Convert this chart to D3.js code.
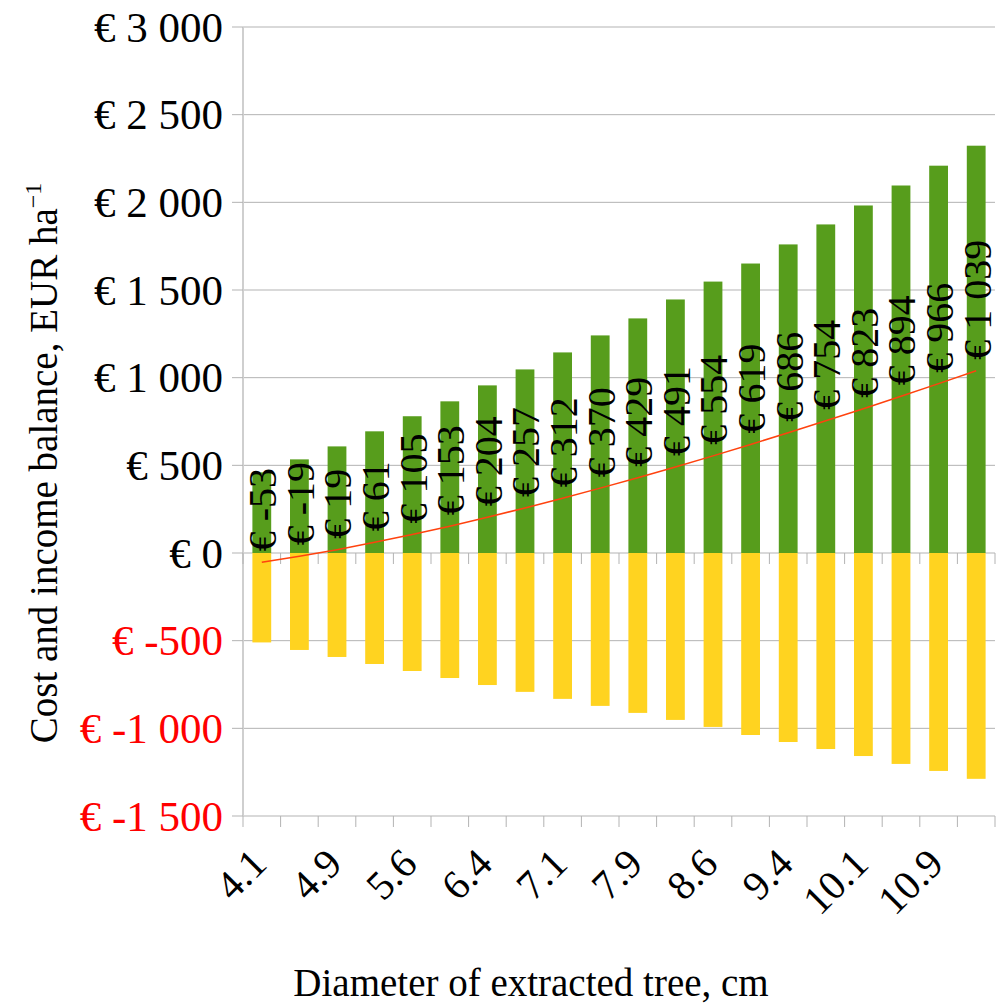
<!DOCTYPE html>
<html>
<head>
<meta charset="utf-8">
<script src="https://cdn.jsdelivr.net/npm/d3@7"></script>
<style>
  body { margin: 0; background: #fff; }
  text { font-family: "Liberation Serif", "Times New Roman", serif; }
</style>
</head>
<body>
<svg id="chart" width="997" height="1003"></svg>
<script>
// diameter classes (only every other one is labelled on the axis)
var diameters = ["4.1", "4.5", "4.9", "5.2", "5.6", "6.0", "6.4", "6.7", "7.1", "7.5",
                 "7.9", "8.2", "8.6", "9.0", "9.4", "9.7", "10.1", "10.5", "10.9", "11.2"];
// income per ha (green bars)
var income = [460, 534, 608, 694, 780, 865, 956, 1047, 1144, 1241,
              1338, 1446, 1548, 1651, 1760, 1874, 1982, 2096, 2209, 2323];
// costs per ha (yellow bars)
var cost = [-510, -553, -593, -633, -673, -713, -753, -792, -832, -872,
            -912, -952, -992, -1038, -1078, -1118, -1158, -1203, -1243, -1288];
// balance (red line + labels)
var balance = [-53, -19, 19, 61, 105, 153, 204, 257, 312, 370,
               429, 491, 554, 619, 686, 754, 823, 894, 966, 1039];
var yTicks = [-1500, -1000, -500, 0, 500, 1000, 1500, 2000, 2500, 3000];

var svg = d3.select("#chart");
var plotLeft = 243, plotRight = 995, plotTop = 27, plotBottom = 816;

var x = d3.scaleBand()
    .domain(diameters)
    .range([plotLeft, plotRight])
    .paddingInner(0.5)
    .paddingOuter(0.25);

var y = d3.scaleLinear()
    .domain([-1500, 3000])
    .range([plotBottom, plotTop]);

var loc = d3.formatLocale({decimal: ".", thousands: "\u00a0", grouping: [3], currency: ["", ""], minus: "-"});
var num = loc.format(",");
function euro(v) { return "\u20ac " + num(v); }

var gridColor = "#b3b3b3";

// horizontal gridlines
svg.append("g")
  .selectAll("line")
  .data(yTicks)
  .enter().append("line")
    .attr("x1", plotLeft)
    .attr("x2", plotRight)
    .attr("y1", function(d) { return y(d); })
    .attr("y2", function(d) { return y(d); })
    .attr("stroke", gridColor)
    .attr("stroke-width", 1);

// y axis line + ticks + labels
svg.append("line")
    .attr("x1", plotLeft).attr("x2", plotLeft)
    .attr("y1", plotTop).attr("y2", plotBottom)
    .attr("stroke", "#cfcfcf")
    .attr("stroke-width", 2);

svg.append("g")
  .selectAll("line")
  .data(yTicks)
  .enter().append("line")
    .attr("x1", plotLeft - 11)
    .attr("x2", plotLeft)
    .attr("y1", function(d) { return y(d); })
    .attr("y2", function(d) { return y(d); })
    .attr("stroke", gridColor);

svg.append("g")
  .selectAll("text")
  .data(yTicks)
  .enter().append("text")
    .attr("x", 223)
    .attr("y", function(d) { return y(d); })
    .attr("dy", "0.34em")
    .attr("text-anchor", "end")
    .attr("font-size", 43)
    .attr("fill", function(d) { return d < 0 ? "#ff0000" : "#000"; })
    .text(euro);

// category boundaries for the tick marks
var step = x.step();
var bounds = diameters.map(function(d) { return x(d) + x.bandwidth() / 2 - step / 2; });
bounds.push(bounds[bounds.length - 1] + step);

[y(0), y(-1500)].forEach(function(yy) {
  svg.append("g")
    .selectAll("line")
    .data(bounds)
    .enter().append("line")
      .attr("x1", function(d) { return d; })
      .attr("x2", function(d) { return d; })
      .attr("y1", yy)
      .attr("y2", yy + 11)
      .attr("stroke", gridColor);
});

// income bars
svg.append("g")
  .selectAll("rect")
  .data(income)
  .enter().append("rect")
    .attr("x", function(d, i) { return x(diameters[i]); })
    .attr("width", x.bandwidth())
    .attr("y", function(d) { return y(d); })
    .attr("height", function(d) { return y(0) - y(d); })
    .attr("fill", "#579d1c");

// cost bars
svg.append("g")
  .selectAll("rect")
  .data(cost)
  .enter().append("rect")
    .attr("x", function(d, i) { return x(diameters[i]); })
    .attr("width", x.bandwidth())
    .attr("y", y(0))
    .attr("height", function(d) { return y(d) - y(0); })
    .attr("fill", "#ffd320");

// balance line
var line = d3.line()
    .x(function(d, i) { return x(diameters[i]) + x.bandwidth() / 2; })
    .y(function(d) { return y(d); });

svg.append("path")
    .datum(balance)
    .attr("d", line)
    .attr("fill", "none")
    .attr("stroke", "#ff420e")
    .attr("stroke-width", 1.5);

// balance labels
svg.append("g")
  .selectAll("text")
  .data(balance)
  .enter().append("text")
    .attr("transform", function(d, i) {
      return "translate(" + (x(diameters[i]) + x.bandwidth() / 2) + "," + (y(d) - 11) + ") rotate(-90)";
    })
    .attr("dy", "0.36em")
    .attr("font-size", 40)
    .attr("fill", "#000")
    .text(euro);

// x tick labels, every other category
svg.append("g")
  .selectAll("text")
  .data(diameters.filter(function(d, i) { return i % 2 === 0; }))
  .enter().append("text")
    .attr("transform", function(d) {
      return "translate(" + (x(d) + x.bandwidth() / 2 + 7) + ",866) rotate(-45)";
    })
    .attr("text-anchor", "end")
    .attr("font-size", 41)
    .text(function(d) { return d; });

// axis titles
svg.append("text")
    .attr("x", 531)
    .attr("y", 996)
    .attr("text-anchor", "middle")
    .attr("font-size", 39)
    .text("Diameter of extracted tree, cm");

var yt = svg.append("text")
    .attr("transform", "translate(57,463) rotate(-90)")
    .attr("text-anchor", "middle")
    .attr("font-size", 39);
yt.append("tspan").text("Cost and income balance, EUR ha");
yt.append("tspan")
    .attr("font-size", 24)
    .attr("dy", -16)
    .text("\u22121");
</script>
</body>
</html>
